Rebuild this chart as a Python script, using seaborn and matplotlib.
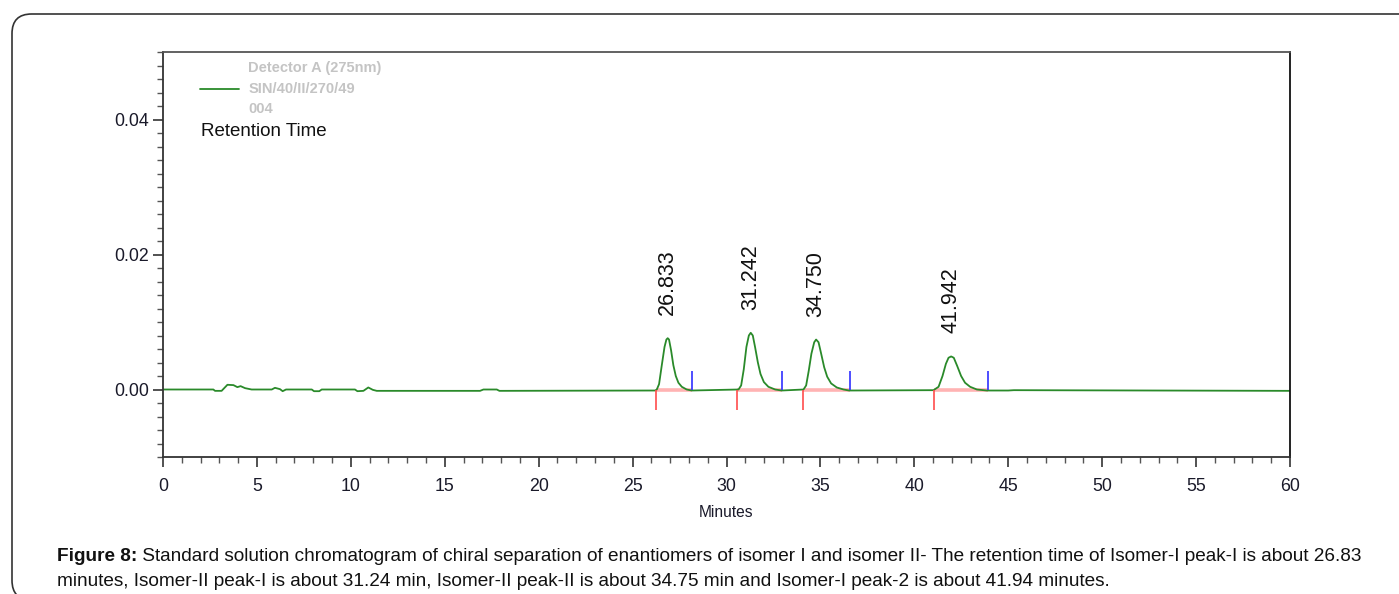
import numpy as np
import pandas as pd
import matplotlib
matplotlib.use("Agg")
import matplotlib.pyplot as plt
import seaborn as sns
from matplotlib.patches import FancyBboxPatch
from matplotlib.ticker import MultipleLocator

# ---------------- data ----------------
trace_time = [0.0, 2.68, 2.77, 3.12, 3.43, 3.75, 3.96, 4.13, 4.37, 4.72, 5.79, 5.96, 6.23, 6.37,
              6.55, 7.92, 8.04, 8.32, 8.45, 10.22, 10.35, 10.67, 10.93, 11.17, 11.38, 16.88,
              17.06, 17.77, 17.91, 26.20,
              26.29, 26.41, 26.55, 26.70, 26.80, 26.87, 26.94, 27.05, 27.17, 27.30, 27.44, 27.62,
              27.88, 28.15,
              30.64, 30.78, 30.92, 31.06, 31.19, 31.29, 31.40, 31.52, 31.67, 31.81, 31.99, 32.23,
              32.59, 32.94,
              34.10, 34.24, 34.38, 34.52, 34.67, 34.77, 34.90, 35.04, 35.20, 35.36, 35.57, 35.87,
              36.23, 36.53,
              41.02, 41.29, 41.50, 41.68, 41.82, 41.96, 42.10, 42.28, 42.49, 42.70, 42.97, 43.33,
              43.86, 45.00, 45.30, 60.0]
trace_signal = [0.0, 0.0, -0.0002, -0.0002, 0.0007, 0.00065, 0.00035, 0.0005, 0.0002, 0.0, 0.0,
                0.00025, 0.00005, -0.00025, 0.0, 0.0, -0.00025, -0.00025, 0.0, 0.0, -0.00025,
                -0.0002, 0.0003, -0.00005, -0.0002, -0.0002, 0.0, 0.0, -0.0002, -0.00015,
                0.0000, 0.0008, 0.0035, 0.0063, 0.0074, 0.0076, 0.0074, 0.0058, 0.0036, 0.0020,
                0.0010, 0.0004, 0.0000, -0.00015,
                0.0000, 0.0006, 0.0030, 0.0063, 0.0080, 0.0084, 0.0080, 0.0063, 0.0040, 0.0023,
                0.0011, 0.0004, 0.0000, -0.00015,
                0.0000, 0.0006, 0.0028, 0.0053, 0.0070, 0.0074, 0.0070, 0.0053, 0.0033, 0.0019,
                0.0009, 0.0003, 0.0000, -0.00015,
                -0.0001, 0.0004, 0.0020, 0.0038, 0.0047, 0.0049, 0.0047, 0.0035, 0.0020, 0.0010,
                0.0004, 0.0000, -0.00015, -0.00015, -0.0001, -0.0002]

peak_labels = ["26.833", "31.242", "34.750", "41.942"]
peak_times = [26.87, 31.29, 34.77, 41.96]
peak_heights = [0.0076, 0.0084, 0.0074, 0.0049]
peak_start = [26.23, 30.58, 34.06, 41.04]
peak_end = [28.18, 32.96, 36.56, 43.91]

x_ticks = [0, 5, 10, 15, 20, 25, 30, 35, 40, 45, 50, 55, 60]
y_ticks = [0.00, 0.02, 0.04]
y_tick_labels = ["0.00", "0.02", "0.04"]

legend_text = "Detector A (275nm)\nSIN/40/II/270/49\n004"
caption_bold = "Figure 8:"
caption_line1 = (" Standard solution chromatogram of chiral separation of enantiomers of isomer I and "
                 "isomer II- The retention time of Isomer-I peak-I is about 26.83")
caption_line2 = ("minutes, Isomer-II peak-I is about 31.24 min, Isomer-II peak-II is about 34.75 min "
                 "and Isomer-I peak-2 is about 41.94 minutes.")

# ---------------- style ----------------
sns.set_theme(style="ticks")
plt.rcParams["font.family"] = ["Liberation Sans", "DejaVu Sans"]
fam = ["Liberation Sans", "DejaVu Sans"]

W, H = 1399, 594
fig = plt.figure(figsize=(W / 100, H / 100), dpi=100)
fig.patch.set_facecolor("white")

# outer rounded frame
frame = FancyBboxPatch((12 / W, 1 - 600 / H), 1500 / W, (600 - 14) / H,
                       boxstyle="round,pad=0,rounding_size=0.014",
                       transform=fig.transFigure, fill=False, edgecolor="#333333",
                       linewidth=1.2, clip_on=False, mutation_aspect=W / H)
fig.patches.append(frame)

ax = fig.add_axes([163 / W, 1 - 457 / H, (1290 - 163) / W, (457 - 52) / H])
ax.set_facecolor("white")

df = pd.DataFrame({"Minutes": trace_time, "Signal": trace_signal})

# integration baseline (pink) and markers
ax.hlines([-0.0001] * len(peak_start), peak_start, peak_end, colors="#ffb3b3", linewidth=2.6, zorder=1)
sns.lineplot(data=df, x="Minutes", y="Signal", ax=ax, color="#2a8a2a", linewidth=1.3,
             label=legend_text, zorder=2, estimator=None, sort=False)
ax.vlines(peak_start, -0.003, -0.0001, colors="#ff4d4d", linewidth=1.2, zorder=3)
ax.vlines(peak_end, -0.0001, 0.0028, colors="#3030ff", linewidth=1.2, zorder=3)

for lab, t, h in zip(peak_labels, peak_times, peak_heights):
    ax.text(t, h + 0.0034, lab, rotation=90, ha="center", va="bottom", fontsize=15.5,
            color="#111111")

ax.set_xlim(0, 60)
ax.set_ylim(-0.01, 0.05)
ax.set_xticks(x_ticks)
ax.set_xticklabels([str(v) for v in x_ticks])
ax.xaxis.set_minor_locator(MultipleLocator(1))
ax.set_yticks(y_ticks)
ax.set_yticklabels(y_tick_labels)
ax.yaxis.set_minor_locator(MultipleLocator(0.002))
ax.tick_params(axis="both", which="major", length=7, width=1.2, color="#333333",
               labelsize=12.8, labelcolor="#1a1a2a")
ax.tick_params(axis="x", which="major", pad=8)
ax.tick_params(axis="y", which="major", pad=3)
ax.tick_params(axis="both", which="minor", length=4, width=1.0, color="#555555")
for side in ["left", "bottom", "right", "top"]:
    ax.spines[side].set_visible(True)
    ax.spines[side].set_linewidth(1.3)
ax.spines["left"].set_color("#333333")
ax.spines["bottom"].set_color("#333333")
ax.spines["right"].set_color("#111111")
ax.spines["top"].set_color("#555555")

ax.set_xlabel("Minutes", family=fam, fontsize=11.2, color="#1a1a2a", labelpad=7)
ax.set_ylabel("")

leg = ax.legend(loc="upper left", bbox_to_anchor=((200 - 163) / 1127, 1 - (61 - 52) / 405),
                frameon=False, borderpad=0, borderaxespad=0, handlelength=2.7, handletextpad=0.6,
                prop={"family": fam, "weight": "bold", "size": 10.5}, labelcolor="#c4c4c4")
for txt in leg.get_texts():
    txt.set_linespacing(1.6)

ax.text((201 - 163) / 1127, 1 - (131 - 52) / 405, "Retention Time", transform=ax.transAxes,
        ha="left", va="center", fontsize=13.5, family=fam, color="#111111")

# caption
t1 = fig.text(57 / W, 1 - 561 / H, caption_bold, fontsize=13.7, fontweight="bold", family=fam,
              color="#111111", ha="left", va="baseline")
fig.add_artist(plt.Annotation(caption_line1, xy=(1, 0), xycoords=t1, fontsize=13.7,
                              family=fam, color="#111111", ha="left", va="bottom",
                              annotation_clip=False))
fig.text(57 / W, 1 - 586 / H, caption_line2, fontsize=13.7, family=fam, color="#111111",
         ha="left", va="baseline")

fig.savefig("out.png", dpi=100, facecolor="white")
